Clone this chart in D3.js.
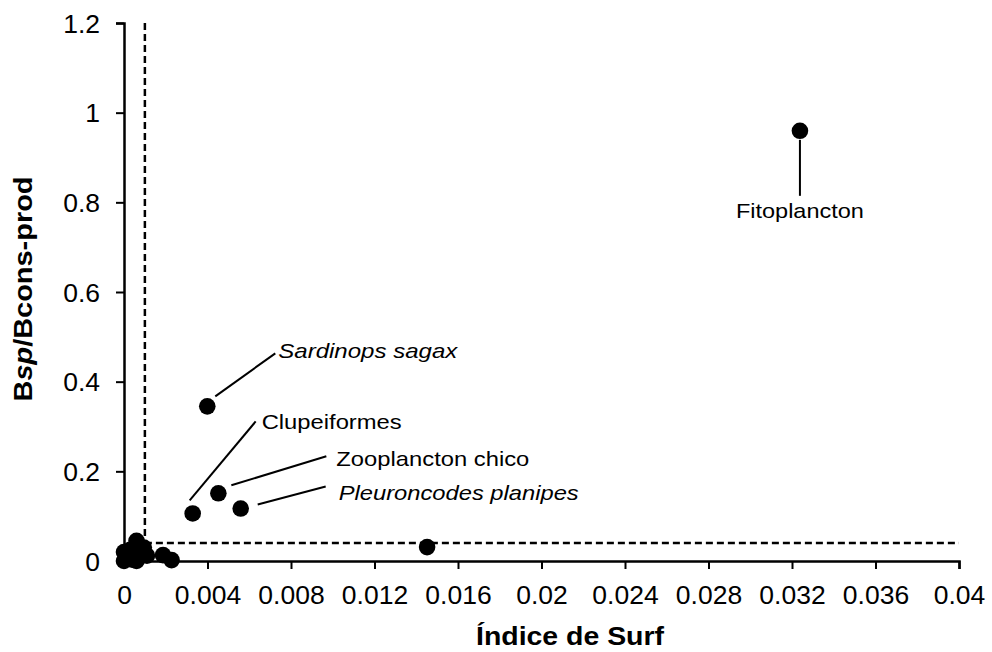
<!DOCTYPE html>
<html><head><meta charset="utf-8">
<script src="https://cdn.jsdelivr.net/npm/d3@7"></script>
<style>body{margin:0;background:#fff}text{font-family:Arial,"Liberation Sans",sans-serif}</style>
</head><body><svg id="c" width="992" height="652"></svg>
<script>
// Data
const surfIndex = [0.03238, 0.00399, 0.00329, 0.00452, 0.00559, 0.01452,
  0, 0, 0.0001, 0.0002, 0.0003, 0.0004, 0.0006, 0.0006, 0.0008, 0.0008, 0.00095, 0.0011, 0.00187, 0.00228];
const ratio = [0.9595, 0.345, 0.106, 0.151, 0.117, 0.031,
  0, 0.02, 0.005, 0.012, 0.025, 0.003, 0.045, 0.0, 0.012, 0.028, 0.03, 0.012, 0.013, 0.002];
const labels = ["Fitoplancton", "Sardinops sagax", "Clupeiformes", "Zooplancton chico", "Pleuroncodes planipes"];
const labelItalic = [false, true, false, false, true];
const xTicks = [0, 0.004, 0.008, 0.012, 0.016, 0.02, 0.024, 0.028, 0.032, 0.036, 0.04];
const yTicks = [0, 0.2, 0.4, 0.6, 0.8, 1, 1.2];
const thresholdX = 0.001;
const thresholdY = 0.04;

const svg = d3.select("#c");
const x = d3.scaleLinear().domain([0, 0.04]).range([124, 959]);
const y = d3.scaleLinear().domain([0, 1.2]).range([561, 23]);

function stretch(sel, f) {
  sel.each(function () {
    const n = this.getComputedTextLength();
    d3.select(this).attr("textLength", n * f).attr("lengthAdjust", "spacingAndGlyphs");
  });
}

// axes
const xAxis = svg.append("g").attr("transform", `translate(0,${y(0)})`)
  .call(d3.axisBottom(x).tickValues(xTicks).tickFormat(d => d === 0 ? "0" : String(+d.toFixed(3))).tickSizeOuter(0).tickSize(8).tickPadding(17));
const yAxis = svg.append("g").attr("transform", `translate(${x(0)},0)`)
  .call(d3.axisLeft(y).tickValues(yTicks).tickFormat(d => String(d)).tickSizeOuter(0).tickSize(8).tickPadding(16));
[xAxis, yAxis].forEach(g => {
  g.selectAll("path.domain").attr("stroke", "#000").attr("stroke-width", 2.5);
  g.selectAll(".tick line").attr("stroke", "#000").attr("stroke-width", 2);
  g.selectAll(".tick text").attr("fill", "#000").style("font-size", "25px").style("font-family", "Arial, 'Liberation Sans', sans-serif");
  stretch(g.selectAll(".tick text"), 1.06);
});
yAxis.selectAll(".tick text").attr("dy", "0.36em");

// threshold dashed lines
svg.append("line").attr("x1", x(thresholdX)).attr("x2", x(thresholdX)).attr("y1", y(1.2)).attr("y2", y(0))
  .attr("stroke", "#000").attr("stroke-width", 2.5).attr("stroke-dasharray", "7,4");
svg.append("line").attr("x1", x(thresholdX)).attr("x2", x(0.04)).attr("y1", y(thresholdY)).attr("y2", y(thresholdY))
  .attr("stroke", "#000").attr("stroke-width", 2.5).attr("stroke-dasharray", "7,4");

// points
svg.append("g").selectAll("circle").data(surfIndex.map((v, i) => [v, ratio[i]])).join("circle")
  .attr("cx", d => x(d[0])).attr("cy", d => y(d[1])).attr("r", 8.3).attr("fill", "#000");

// annotations: leader line offsets (px), text offsets and rendered widths
const ann = [
  {l1: [0, 9], l2: [0, 65], t: [0, 87], anchor: "middle", w: 128},
  {l1: [8, -10], l2: [68, -53], t: [71, -48], anchor: "start", w: 179},
  {l1: [-3, -13], l2: [63, -92], t: [69, -84], anchor: "start", w: 140},
  {l1: [13, -8], l2: [108, -37], t: [118, -27], anchor: "start", w: 193},
  {l1: [17, -4], l2: [85, -22], t: [98, -9], anchor: "start", w: 240}
];
labels.forEach((lab, i) => {
  const px = x(surfIndex[i]), py = y(ratio[i]), a = ann[i];
  svg.append("line").attr("x1", px + a.l1[0]).attr("y1", py + a.l1[1])
    .attr("x2", px + a.l2[0]).attr("y2", py + a.l2[1]).attr("stroke", "#000").attr("stroke-width", 2);
  svg.append("text").attr("x", px + a.t[0]).attr("y", py + a.t[1]).attr("text-anchor", a.anchor)
    .attr("textLength", a.w).attr("lengthAdjust", "spacingAndGlyphs")
    .style("font-size", "21px").style("font-style", labelItalic[i] ? "italic" : "normal").text(lab);
});

// axis titles
svg.append("text").attr("x", 570).attr("y", 645).attr("text-anchor", "middle")
  .attr("textLength", 188).attr("lengthAdjust", "spacingAndGlyphs")
  .style("font-size", "25px").style("font-weight", "bold").text("Índice de Surf");
const yt = svg.append("text").attr("transform", "translate(32,289) rotate(-90)").attr("text-anchor", "middle")
  .attr("textLength", 225).attr("lengthAdjust", "spacingAndGlyphs")
  .style("font-size", "25px").style("font-weight", "bold");
yt.append("tspan").text("B");
yt.append("tspan").style("font-style", "italic").text("sp");
yt.append("tspan").text("/Bcons-prod");
</script></body></html>
